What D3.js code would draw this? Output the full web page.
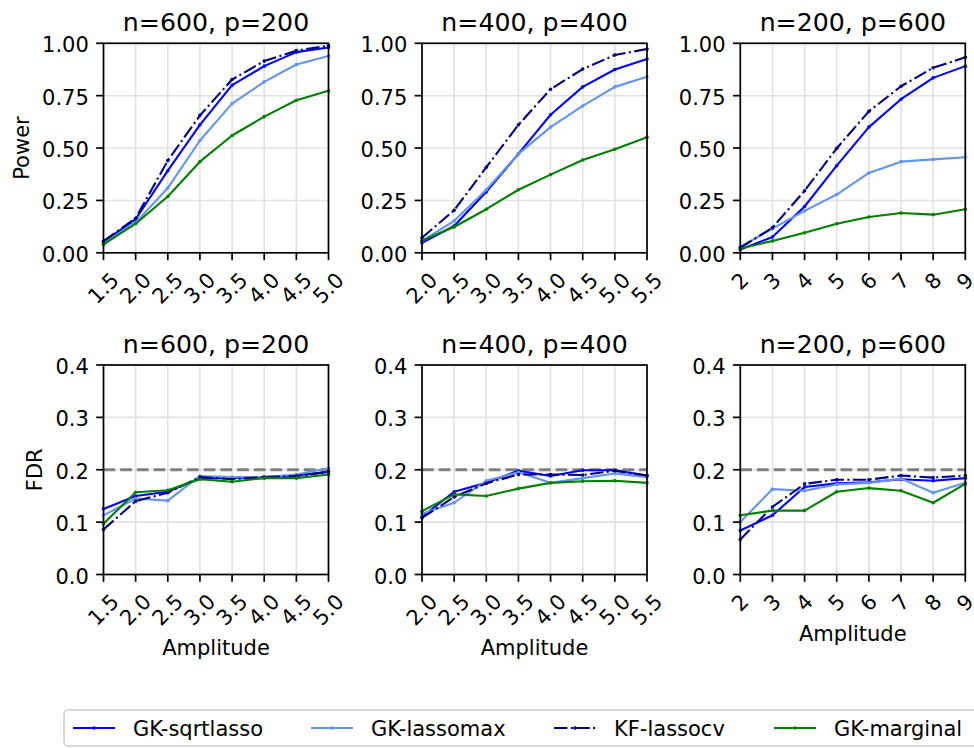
<!DOCTYPE html>
<html>
<head>
<meta charset="utf-8">
<script src="https://cdn.jsdelivr.net/npm/d3@7"></script>
<style>
  body { margin: 0; background: #fff; }
  svg { display: block; font-family: "DejaVu Sans", sans-serif; }
</style>
</head>
<body>
<div id="chart"></div>
<script>
// methods, in plotting order
var methods = ["GK-sqrtlasso", "GK-lassomax", "KF-lassocv", "GK-marginal"];
var colors = ["#0000ff", "#6495ed", "#000080", "#008000"];

// amplitudes for each setting
var amps600 = [1.5, 2.0, 2.5, 3.0, 3.5, 4.0, 4.5, 5.0];
var amps400 = [2.0, 2.5, 3.0, 3.5, 4.0, 4.5, 5.0, 5.5];
var amps200 = [2, 3, 4, 5, 6, 7, 8, 9];

// power, rows follow `methods`
var power600 = [
  [0.053, 0.160, 0.392, 0.611, 0.800, 0.891, 0.958, 0.980],
  [0.046, 0.144, 0.309, 0.536, 0.712, 0.816, 0.899, 0.939],
  [0.056, 0.165, 0.440, 0.656, 0.827, 0.915, 0.965, 0.989],
  [0.040, 0.139, 0.269, 0.435, 0.560, 0.650, 0.728, 0.773]
];
var power400 = [
  [0.048, 0.128, 0.291, 0.472, 0.659, 0.792, 0.875, 0.925],
  [0.056, 0.152, 0.301, 0.472, 0.600, 0.701, 0.792, 0.840],
  [0.072, 0.203, 0.408, 0.611, 0.781, 0.877, 0.944, 0.973],
  [0.059, 0.123, 0.208, 0.301, 0.373, 0.443, 0.494, 0.552]
];
var power200 = [
  [0.016, 0.075, 0.221, 0.416, 0.600, 0.733, 0.835, 0.891],
  [0.029, 0.115, 0.200, 0.278, 0.381, 0.435, 0.446, 0.456],
  [0.024, 0.120, 0.296, 0.499, 0.675, 0.795, 0.883, 0.933],
  [0.021, 0.056, 0.096, 0.139, 0.171, 0.190, 0.182, 0.208]
];

// FDR, rows follow `methods`
var fdr600 = [
  [0.125, 0.150, 0.158, 0.184, 0.184, 0.186, 0.189, 0.196],
  [0.113, 0.145, 0.141, 0.188, 0.186, 0.186, 0.191, 0.203],
  [0.086, 0.140, 0.156, 0.186, 0.182, 0.186, 0.188, 0.196],
  [0.097, 0.157, 0.161, 0.182, 0.177, 0.184, 0.184, 0.191]
];
var fdr400 = [
  [0.110, 0.158, 0.175, 0.198, 0.188, 0.199, 0.199, 0.189],
  [0.116, 0.137, 0.179, 0.195, 0.175, 0.184, 0.193, 0.186],
  [0.108, 0.148, 0.174, 0.191, 0.191, 0.190, 0.198, 0.189],
  [0.121, 0.153, 0.150, 0.164, 0.175, 0.178, 0.179, 0.175]
];
var fdr200 = [
  [0.084, 0.113, 0.167, 0.174, 0.176, 0.182, 0.179, 0.184],
  [0.100, 0.163, 0.160, 0.172, 0.175, 0.183, 0.156, 0.175],
  [0.067, 0.129, 0.173, 0.181, 0.181, 0.189, 0.185, 0.189],
  [0.113, 0.122, 0.122, 0.158, 0.165, 0.160, 0.137, 0.173]
];

var powerTicks = [0, 0.25, 0.5, 0.75, 1.0];
var fdrTicks = [0, 0.1, 0.2, 0.3, 0.4];
var fdrTarget = 0.2;

var W = 974, H = 748;
var fs = 21;          // tick / label / legend font size
var pad = 14.7;       // tick length + tick pad
var colX = [103.5, 422, 740.3];
var rowY = [43.3, 365];
var pw = 225, ph = 209.5;

var svg = d3.select("#chart").append("svg")
  .attr("width", W)
  .attr("height", H);

var panels = [
  {col: 0, row: 0, amps: amps600, data: power600, title: "n=600, p=200", power: true},
  {col: 1, row: 0, amps: amps400, data: power400, title: "n=400, p=400", power: true},
  {col: 2, row: 0, amps: amps200, data: power200, title: "n=200, p=600", power: true},
  {col: 0, row: 1, amps: amps600, data: fdr600, title: "n=600, p=200", power: false},
  {col: 1, row: 1, amps: amps400, data: fdr400, title: "n=400, p=400", power: false},
  {col: 2, row: 1, amps: amps200, data: fdr200, title: "n=200, p=600", power: false}
];

panels.forEach(drawPanel);
drawLegend();

function drawPanel(p) {
  var x0 = colX[p.col], y0 = rowY[p.row];
  var g = svg.append("g");
  var x = d3.scaleLinear().domain(d3.extent(p.amps)).range([x0, x0 + pw]);
  var y = d3.scaleLinear().domain(p.power ? [0, 1] : [0, 0.4]).range([y0 + ph, y0]);
  var yTicks = p.power ? powerTicks : fdrTicks;
  var yFmt = p.power ? d3.format(".2f") : d3.format(".1f");
  var xFmt = p.col == 2 ? d3.format("d") : d3.format(".1f");

  //grid
  g.selectAll("line.gx").data(p.amps).enter().append("line")
    .attr("x1", d => x(d)).attr("x2", d => x(d))
    .attr("y1", y0).attr("y2", y0 + ph)
    .style("stroke", "#e2e2e2").style("stroke-width", 1.6);
  g.selectAll("line.gy").data(yTicks).enter().append("line")
    .attr("x1", x0).attr("x2", x0 + pw)
    .attr("y1", d => y(d)).attr("y2", d => y(d))
    .style("stroke", "#e2e2e2").style("stroke-width", 1.6);

  if (!p.power) {
    g.append("line")
      .attr("x1", x0).attr("x2", x0 + pw)
      .attr("y1", y(fdrTarget)).attr("y2", y(fdrTarget))
      .style("stroke", "#808080").style("stroke-width", 3.2)
      .style("stroke-dasharray", "11.7,5");
  }

  //series
  var line = d3.line().x((d, i) => x(p.amps[i])).y(d => y(d));
  p.data.forEach((vals, k) => {
    g.append("path")
      .attr("d", line(vals))
      .style("fill", "none")
      .style("stroke", colors[k])
      .style("stroke-width", 2.1)
      .style("stroke-linejoin", "round")
      .style("stroke-dasharray", k == 2 ? "13.4,3.4,2.1,3.4" : null);
    g.selectAll("circle.m" + k).data(vals).enter().append("circle")
      .attr("cx", (d, i) => x(p.amps[i]))
      .attr("cy", d => y(d))
      .attr("r", 1.8)
      .style("fill", colors[k]);
  });

  //spines
  g.append("rect")
    .attr("x", x0).attr("y", y0).attr("width", pw).attr("height", ph)
    .style("fill", "none").style("stroke", "#000").style("stroke-width", 1.7);

  //y axis
  var yAxis = g.append("g");
  yAxis.selectAll("line").data(yTicks).enter().append("line")
    .attr("x1", x0 - 7.35).attr("x2", x0)
    .attr("y1", d => y(d)).attr("y2", d => y(d))
    .style("stroke", "#000").style("stroke-width", 1.7);
  var yLabels = yAxis.selectAll("text").data(yTicks).enter().append("text")
    .attr("x", x0 - pad)
    .attr("y", d => y(d) + 9)
    .attr("text-anchor", "end")
    .style("font-size", fs + "px")
    .text(d => yFmt(d));

  //x axis
  var xAxis = g.append("g");
  xAxis.selectAll("line").data(p.amps).enter().append("line")
    .attr("x1", d => x(d)).attr("x2", d => x(d))
    .attr("y1", y0 + ph).attr("y2", y0 + ph + 7.35)
    .style("stroke", "#000").style("stroke-width", 1.7);
  var maxBottom = 0;
  xAxis.selectAll("text").data(p.amps).enter().append("text")
    .attr("text-anchor", "middle")
    .attr("dominant-baseline", "central")
    .style("font-size", fs + "px")
    .text(d => xFmt(d))
    .each(function(d) {
      var w = this.getComputedTextLength();
      var half = (w + 25.4) * 0.3536;
      var cy = y0 + ph + pad + half;
      maxBottom = Math.max(maxBottom, cy + half);
      d3.select(this).attr("transform", "translate(" + x(d) + "," + cy + ") rotate(-45)");
    });

  //title
  g.append("text")
    .attr("x", x0 + pw / 2)
    .attr("y", y0 - 12.5)
    .attr("text-anchor", "middle")
    .style("font-size", "25.2px")
    .text(p.title);

  if (p.col == 0) {
    var minLeft = d3.min(yLabels.nodes(), n => x0 - pad - n.getComputedTextLength());
    var lx = minLeft - 13.4;
    g.append("text")
      .attr("transform", "translate(" + lx + "," + (y0 + ph / 2) + ") rotate(-90)")
      .attr("text-anchor", "middle")
      .style("font-size", fs + "px")
      .text(p.power ? "Power" : "FDR");
  }
  if (p.row == 1) {
    g.append("text")
      .attr("x", x0 + pw / 2)
      .attr("y", maxBottom + 8.4 + 16)
      .attr("text-anchor", "middle")
      .style("font-size", fs + "px")
      .text("Amplitude");
  }
}

function drawLegend() {
  var lg = svg.append("g");
  lg.append("rect")
    .attr("x", 64).attr("y", 710).attr("width", 940).attr("height", 36)
    .attr("rx", 4)
    .style("fill", "#fff").style("stroke", "#cccccc").style("stroke-width", 1.5);
  var itemX = [73, 311, 554, 774];
  methods.forEach((m, k) => {
    var lx = itemX[k], ly = 728;
    lg.append("line")
      .attr("x1", lx).attr("x2", lx + 42)
      .attr("y1", ly).attr("y2", ly)
      .style("stroke", colors[k]).style("stroke-width", 2.1)
      .style("stroke-dasharray", k == 2 ? "13.4,3.4,2.1,3.4" : null);
    lg.append("circle")
      .attr("cx", lx + 21).attr("cy", ly).attr("r", 1.8)
      .style("fill", colors[k]);
    lg.append("text")
      .attr("x", lx + 60)
      .attr("y", ly + 7.5)
      .style("font-size", fs + "px")
      .text(m);
  });
}
</script>
</body>
</html>
